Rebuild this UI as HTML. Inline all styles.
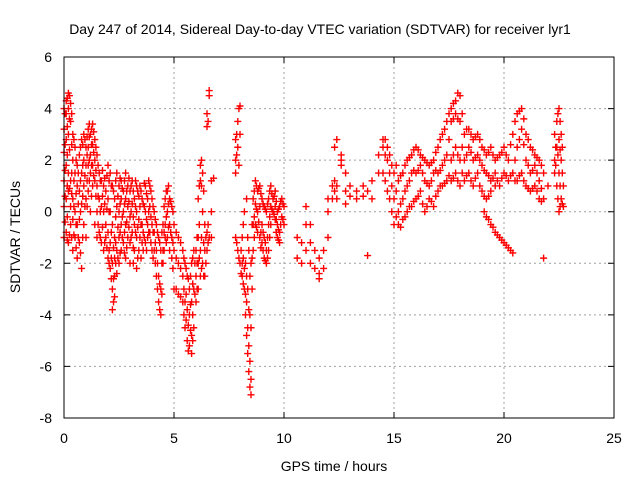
<!DOCTYPE html>
<html><head><meta charset="utf-8"><style>
html,body{margin:0;padding:0;background:#fff;}
svg{display:block;font-family:"Liberation Sans",sans-serif;}
</style></head><body>
<svg id="chart" width="640" height="480">
<rect x="0" y="0" width="640" height="480" fill="#fff"/>
<text x="320" y="34" text-anchor="middle" font-size="14">Day 247 of 2014, Sidereal Day-to-day VTEC variation (SDTVAR) for receiver lyr1</text>
<text x="334" y="471" text-anchor="middle" font-size="14">GPS time / hours</text>
<text transform="translate(20,237) rotate(-90)" text-anchor="middle" font-size="14">SDTVAR / TECUs</text>
<g id="grid"></g>
<g id="ticks"></g>
<g id="points"></g>
<rect x="64" y="57" width="550" height="361" fill="none" stroke="#000" stroke-width="1"/>
</svg>
<script>
const xTicks=[0,5,10,15,20,25];
const yTicks=[-8,-6,-4,-2,0,2,4,6];
const groupTimes=[0.0,0.1,0.2,0.3,0.4,0.5,0.6,0.7,0.8,0.9,1.0,1.1,1.2,1.3,1.4,1.5,1.6,1.7,1.8,1.9,2.0,2.1,2.2,2.3,2.4,2.5,2.6,2.7,2.8,2.9,3.0,3.1,3.2,3.3,3.4,3.5,3.6,3.7,3.8,3.9,4.0,4.1,4.2,4.3,4.4,4.5,4.6,4.7,4.8,4.9,5.0,5.2,5.4,5.5,5.6,5.7,5.8,5.9,6.0,6.1,6.2,6.3,6.4,6.5,6.6,6.7,6.8,7.8,7.9,8.0,8.1,8.2,8.3,8.4,8.5,8.6,8.7,8.8,8.9,9.0,9.1,9.2,9.3,9.4,9.5,9.6,9.7,9.8,9.9,10.0,10.6,10.8,11.0,11.2,11.4,11.6,11.8,12.0,12.2,12.3,12.4,12.6,12.8,13.0,13.3,13.6,13.8,14.0,14.3,14.5,14.7,14.9,15.0,15.2,15.4,15.6,15.8,16.0,16.2,16.4,16.6,16.8,17.0,17.2,17.4,17.6,17.8,18.0,18.2,18.4,18.6,18.8,19.0,19.2,19.4,19.6,19.8,20.0,20.2,20.4,20.6,20.8,21.0,21.2,21.4,21.6,21.8,22.0,22.3,22.4,22.5,22.6,22.7];
const groupValues=[
[4.0,3.2,2.3,1.2,0.2,-1.0],[4.3,3.8,2.8,1.8,0.5,-0.8],[4.6,4.0,3.0,1.5,0.8,-1.2],[4.2,3.5,1.2,0.2,-0.5],[3.0,2.0,0.5,-0.3,-1.5],
[2.5,1.5,0.0,-1.0],[1.8,1.0,-0.5,-1.8],[2.2,0.8,-0.3,-1.2],[2.8,1.5,0.3,-2.2],[3.0,2.0,1.0,-0.5],
[2.5,1.8,0.5,-1.0],[3.2,2.5,1.8,0.8],[3.0,2.2,1.5,0.0],[3.4,2.6,1.8,1.0],[2.8,2.0,1.2,-0.5],
[2.2,1.0,0.0,-1.0],[1.5,0.5,-0.8],[1.2,0.2,-1.2],[1.0,0.0,-1.5],[0.8,-0.5,-1.0],
[1.8,0.5,-0.8,-1.8],[1.5,0.0,-1.2,-2.2],[1.0,-0.5,-2.0,-3.0,-3.8],[0.5,-1.0,-1.8,-2.5,-3.3],[1.5,0.2,-1.5,-2.4],
[1.0,0.0,-1.0,-2.0],[1.2,0.5,-0.5,-1.5],[0.8,0.0,-1.2],[1.5,0.5,-0.5,-1.8],[1.0,0.2,-1.0],
[0.8,-0.2,-1.2,-2.0],[1.2,0.3,-0.8],[0.5,-0.5,-1.5],[1.0,0.0,-1.0,-2.2],[0.6,-0.3,-1.5],
[0.8,-0.5,-1.8],[0.3,-0.8,-1.5],[1.0,0.0,-1.2],[0.5,-0.5,-1.0],[1.0,0.2,-0.8],
[0.5,-0.5,-1.5],[0.0,-0.8,-1.5],[-0.5,-1.5,-2.5],[-1.0,-2.5,-3.5],[-1.5,-3.0,-4.0],
[-0.5,-1.5,-2.0],[0.5,-0.5,-1.0],[0.8,0.0,-1.0],[0.5,-0.5,-1.5],[0.2,-1.0,-1.8],
[-0.5,-1.5,-3.0],[-1.0,-2.0,-3.2],[-1.5,-2.5,-3.5],[-2.0,-3.5,-4.5],[-2.5,-3.8,-5.0],
[-3.0,-4.0,-5.2],[-2.0,-3.5,-4.8,-5.5],[-1.5,-3.0,-4.5],[-1.5,-2.5,-3.5],[0.5,-1.0,-2.0,-3.0],
[1.8,1.2,-1.5,-2.5],[1.5,0.0,-2.0],[-0.5,-1.5,-2.5],[3.8,3.3,-0.8,-1.5],[4.7,4.5,-1.0],
[1.2,0.0,-1.0],[1.3],[2.8,2.0,1.5,-1.0],[3.5,2.5,-1.5],[4.1,3.0,-2.0],
[-1.0,-2.0,-2.5],[0.0,-2.2,-3.0],[0.5,-2.5,-3.5,-4.8],[-1.5,-3.8,-5.2,-6.2],[-2.0,-4.5,-6.5,-7.1],
[0.5,-0.5,-1.5],[1.2,0.3,-0.5],[0.8,0.0,-0.8],[1.0,0.2,-1.0],[0.5,-0.5,-1.2],
[0.2,-1.0,-1.8],[0.0,-1.5,-2.0],[0.5,-0.5,-1.5],[1.0,0.2,-0.5],[0.5,0.0],
[0.8,0.2,-0.3],[0.0,-0.5,-1.0],[0.2,-0.8,-1.2],[0.5,-0.2],[0.2,-0.5],
[-1.0,-1.8],[-1.2,-2.0],[0.2,-0.5,-1.5],[-0.5,-1.2,-2.0],[-1.5,-2.2],
[-1.8,-2.4,-2.6],[-1.5,-2.2],[0.0,0.5,-1.0],[0.5,1.0],[0.8,1.2,2.5],
[1.0,0.5,2.8],[1.8,2.0,2.2],[1.5,0.8,0.3],[0.6,1.0],[0.5,0.8],
[0.6,1.0],[0.8,-1.7],[1.2,0.5],[1.5,2.2],[2.8,2.5,1.5],
[2.5,2.0,0.8],[1.8,1.0,0.0],[1.5,0.5,-0.5],[1.2,0.0,-0.5],[1.5,0.5,-0.3],
[2.0,1.0,0.0],[2.2,1.5,0.2],[2.5,1.5,0.5],[2.2,1.8,0.8],[2.0,1.2,0.0],
[1.8,1.0,0.5],[2.0,1.5,0.2],[2.5,1.5,0.8],[3.0,1.8,1.0],[3.5,2.2,1.2],
[4.0,3.5,2.0,1.2],[4.3,3.8,2.5,1.5],[4.5,3.5,2.0,1.0],[3.0,2.0,1.2],[3.2,2.5,1.5],
[2.8,2.0,1.0],[3.0,2.2,1.5],[2.5,1.8,0.8],[2.2,1.5,0.5,-0.2],[2.5,1.2,0.8,-0.5],
[2.0,1.5,1.0,-0.8],[2.2,1.0,-1.0],[2.5,1.5,-1.2],[2.0,1.2,-1.4],[3.0,1.5,-1.6],
[3.8,2.5,1.2],[4.0,3.2,1.5],[3.0,2.0,1.0],[2.5,1.5,0.8],[2.2,1.8,1.0],
[2.0,1.2,0.5],[1.5,0.5,-1.8],[1.0],[2.0,1.5,3.0],[3.5,2.5,1.0],
[4.0,2.8,1.5,0.0],[3.0,2.0,0.5],[1.0,0.2]];
const extraTimes=[0.05,0.15,0.25,0.35,0.45,0.55,0.65,0.75,0.85,0.95,1.05,1.15,1.25,1.35,1.45,1.55,1.65,1.75,1.85,1.95,2.05,2.15,2.25,2.35,2.45,2.55,2.65,2.75,2.85,2.95,3.05,3.15,3.25,3.35,3.45,3.55,3.65,3.75,3.85,3.95,4.05,4.15,4.25,4.35,4.45,4.55,4.65,4.75,4.85,4.95,5.1,5.3,5.45,5.55,5.65,5.75,5.85,5.95,6.05,6.15,6.25,6.35,6.45,6.55,7.85,7.95,8.05,8.15,8.25,8.35,8.45,8.55,8.65,8.75,8.85,8.95,9.05,9.15,9.25,9.35,9.45,9.55,9.65,9.75,9.85,9.95,14.6,14.8,15.1,15.3,15.5,15.7,15.9,16.1,16.3,16.5,16.7,16.9,17.1,17.3,17.5,17.7,17.9,18.1,18.3,18.5,18.7,18.9,19.1,19.3,19.5,19.7,19.9,20.1,20.3,20.5,20.7,20.9,21.1,21.3,21.5,21.7,22.35,22.45,22.55,22.65];
const extraValues=[
[3.8,2.6,1.6,0.6,-0.4],[4.4,3.3,2.2,1.0,-0.2,-1.1],[4.5,3.6,2.4,0.9,-0.9],[3.8,2.6,1.5,0.7,-1.0],[2.8,1.2,0.2,-0.9],
[2.0,0.7,-0.5,-1.4],[1.5,0.3,-1.0],[2.5,1.2,0.0,-1.6],[2.6,1.8,0.6,-1.0],[2.8,1.4,0.2],
[2.9,2.2,1.2,0.2],[3.4,2.9,2.0,1.2],[3.2,2.6,1.8,0.6],[3.1,2.3,1.4],[2.5,1.6,0.6],
[1.8,0.6,-0.5],[1.2,0.0,-1.0],[1.6,0.6,-0.6],[1.3,0.3,-1.2],[1.4,0.1,-1.4],
[1.2,0.0,-1.5,-2.0],[1.0,-0.8,-1.8,-2.6],[0.8,-1.4,-2.6,-3.5],[1.2,-0.2,-1.2,-2.0],[0.6,-0.6,-1.8],
[1.3,0.3,-0.8,-1.6],[0.9,-0.2,-1.0],[1.2,0.3,-0.8,-1.6],[0.8,-0.4,-1.4],[1.3,0.4,-0.6],
[1.0,0.0,-1.0],[0.8,-0.2,-1.4,-2.0],[1.2,0.2,-0.8],[0.8,-0.6,-1.8],[1.0,0.2,-1.0],
[0.5,-0.5,-1.2],[1.1,0.2,-1.0],[0.7,-0.3,-1.5],[1.2,0.0,-0.8],[0.8,-0.2,-1.2],
[0.2,-0.8,-1.8],[-0.3,-1.2,-2.0],[-0.8,-2.0,-3.0],[-1.2,-2.8,-3.8],[-0.8,-2.0,-3.2],
[0.2,-0.8,-1.5],[0.8,-0.2,-1.2],[1.0,0.3,-0.6],[0.4,-0.8],[0.0,-1.2,-2.2],
[-0.8,-1.8,-3.0],[-1.2,-2.2,-3.3],[-1.8,-3.0,-4.0],[-2.2,-3.2,-4.2],[-2.6,-4.4,-5.4],
[-2.5,-3.6,-4.6],[-1.8,-2.8,-4.0,-5.0],[-2.0,-3.2],[-1.0,-2.0,-3.0],[1.0,-0.5,-1.8],
[2.0,1.0,-1.0,-2.2],[0.8,-1.2,-2.5],[-1.0,-2.0],[3.5,-0.5,-1.2],[3.0,2.2,-1.2],
[4.0,1.8,-1.8],[-1.5,-2.4],[-0.5,-1.8,-2.8],[-2.0,-3.2,-4.0],[-1.0,-3.0,-4.5,-5.5],
[-2.5,-4.0,-5.8,-6.8],[-0.5,-1.8,-3.0],[0.8,-0.2,-1.0],[1.0,0.1,-0.6],[0.9,-0.4],
[0.7,-0.8,-1.4],[0.3,-0.8,-1.5],[0.1,-1.2,-1.9],[0.3,-1.0,-1.8],[0.8,-0.2,-1.0],
[0.7,0.1],[0.6,-0.1],[0.4,-0.3,-0.8],[0.1,-0.7,-1.1],[0.4,-0.5],
[0.3,-0.3],[2.8,2.2,1.2],[2.2,1.5,0.5],[1.8,0.8,-0.2],[1.4,0.3,-0.6],
[1.8,0.8,-0.2],[2.1,1.2,0.2],[2.4,1.6,0.4],[2.4,1.6,0.6],[2.1,1.5,0.3],
[1.9,1.1,0.2],[1.9,1.2,0.4],[2.3,1.6,0.6],[2.8,1.6,1.0],[3.2,2.0,1.1],
[3.8,2.8,1.4],[4.2,3.6,2.2,1.3],[4.6,3.6,2.2,1.2],[3.8,2.5,1.5],[3.2,2.2,1.4],
[3.0,2.3,1.2],[2.9,2.1,1.3],[2.8,2.0,1.0],[2.4,1.6,0.6,0.0],[2.3,1.4,0.6,-0.3],
[2.2,1.3,-0.6],[2.1,1.2,-0.9],[2.3,1.3,-1.1],[2.2,1.4,-1.3],[2.6,1.4,-1.5],
[3.5,2.0,1.2],[3.9,2.8,1.4],[3.6,2.6,1.2],[2.8,1.8,0.9],[2.4,1.6,0.9],
[2.1,1.5,0.8],[1.8,0.9,0.4],[2.5,1.8],[3.8,2.2,0.5],[3.5,2.4,1.0,0.2],
[2.5,1.5,0.3]];
const X0=64,X1=614,Y0=418,Y1=57,xMin=0,xMax=25,yMin=-8,yMax=6;
function xs(t){return X0+(t-xMin)/(xMax-xMin)*(X1-X0);}
function ys(v){return Y0-(v-yMin)/(yMax-yMin)*(Y0-Y1);}
const NS='http://www.w3.org/2000/svg';
function mk(tag,attrs,parent){const e=document.createElementNS(NS,tag);for(const k in attrs)e.setAttribute(k,attrs[k]);parent.appendChild(e);return e;}
const grid=document.getElementById('grid'),ticks=document.getElementById('ticks'),pts=document.getElementById('points');
xTicks.forEach(t=>{const x=xs(t);
 if(t>xMin&&t<xMax){const g=mk('line',{x1:x,y1:Y1,x2:x,y2:Y0,stroke:'#a0a0a0','stroke-dasharray':'2,3'},grid);
 
 }
 const a=mk('path',{d:`M${x},${Y0}v-6M${x},${Y1}v6`,stroke:'#000'},ticks);
 
 
 const l=mk('text',{x:x,y:443,'text-anchor':'middle','font-size':'14'},ticks);l.textContent=t;
 
 
});
yTicks.forEach(v=>{const y=ys(v);
 if(v>yMin&&v<yMax){const g=mk('line',{x1:X0,y1:y,x2:X1,y2:y,stroke:'#a0a0a0','stroke-dasharray':'2,3'},grid);
 
 }
 const a=mk('path',{d:`M${X0},${y}h6M${X1},${y}h-6`,stroke:'#000'},ticks);
 
 
 const l=mk('text',{x:52,y:y+5,'text-anchor':'end','font-size':'14'},ticks);l.textContent=v;
 
 
});
let d='';
function addGroups(times,vals){times.forEach((t,i)=>{vals[i].forEach(v=>{const x=xs(t),y=ys(v);d+=`M${x-3.5},${y}h7M${x},${y-3.5}v7`;});});}
addGroups(groupTimes,groupValues);
addGroups(extraTimes,extraValues);
const p=mk('path',{d:d,stroke:'#ff0000','stroke-width':'1.4',fill:'none'},pts);


</script>
</body></html>
